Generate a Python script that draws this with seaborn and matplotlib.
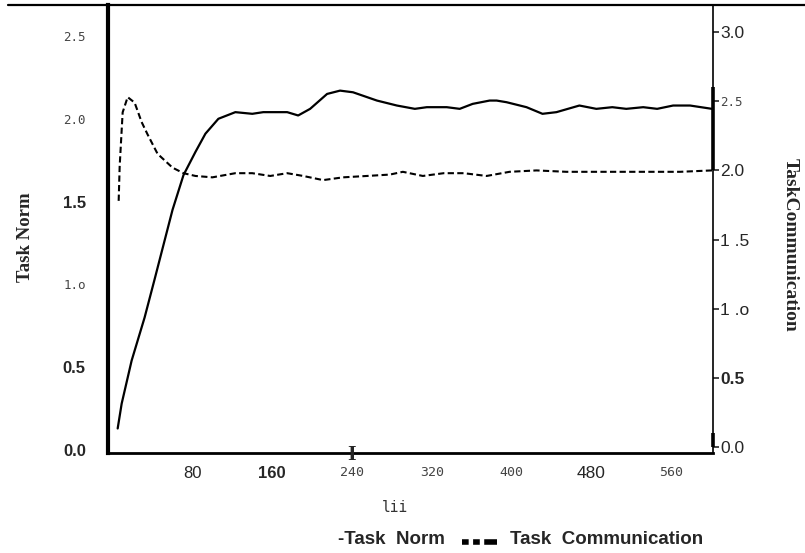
import matplotlib
matplotlib.use("Agg")
import matplotlib.pyplot as plt
import seaborn as sns
from matplotlib.lines import Line2D

# ---- data ----
x_norm = [5, 9, 19, 32, 42, 60, 71, 83, 93, 106, 123, 140, 151, 175, 186, 198, 215, 228, 241,
          265, 285, 303, 315, 335, 348, 361, 378, 385, 395, 415, 431, 445, 468, 485, 501, 515,
          532, 546, 562, 579, 601]
y_norm = [0.13, 0.28, 0.54, 0.80, 1.03, 1.45, 1.66, 1.80, 1.91, 2.00, 2.04, 2.03, 2.04, 2.04,
          2.02, 2.06, 2.15, 2.17, 2.16, 2.11, 2.08, 2.06, 2.07, 2.07, 2.06, 2.09, 2.11, 2.11,
          2.10, 2.07, 2.03, 2.04, 2.08, 2.06, 2.07, 2.06, 2.07, 2.06, 2.08, 2.08, 2.06]

x_comm = [6, 7, 10, 15, 22, 29, 35, 45, 60, 71, 83, 100, 123, 140, 158, 175, 191, 211, 231,
          255, 278, 291, 311, 332, 352, 375, 398, 425, 455, 478, 502, 522, 542, 569, 601]
y_comm = [1.78, 2.03, 2.42, 2.53, 2.49, 2.35, 2.26, 2.12, 2.02, 1.98, 1.96, 1.95, 1.98, 1.98,
          1.96, 1.98, 1.96, 1.93, 1.95, 1.96, 1.97, 1.99, 1.96, 1.98, 1.98, 1.96, 1.99, 2.00,
          1.99, 1.99, 1.99, 1.99, 1.99, 1.99, 2.00]

x_ticks = [80, 160, 240, 320, 400, 480, 560]
x_ticklabels = ["80", "160", "240", "320", "400", "480", "560"]
left_ticks = [0.0, 0.5, 1.0, 1.5, 2.0, 2.5]
left_ticklabels = ["0.0", "0.5", "1.o", "1.5", "2.0", "2.5"]
right_ticks = [0.0, 0.5, 1.0, 1.5, 2.0, 2.5, 3.0]
right_ticklabels = ["0.0", "0.5", "1 .o", "1 .5", "2.0", "2.5", "3.0"]

sns.set_style("white")
plt.rcParams["font.family"] = ["Liberation Sans", "DejaVu Sans"]

fig = plt.figure(figsize=(8.05, 5.53), dpi=100)
ax = fig.add_axes([108 / 805, 1 - 453 / 553, (713 - 108) / 805, (453 - 5) / 553])
ax2 = ax.twinx()

sns.lineplot(x=x_norm, y=y_norm, ax=ax, color="black", linewidth=1.6)
sns.lineplot(x=x_comm, y=y_comm, ax=ax2, color="black", linewidth=1.5,
             linestyle=(0, (3.0, 1.6)))

ax.set_xlim(-4.7, 602)
ax.set_ylim(-0.018, 2.687)
ax2.set_ylim(-0.043, 3.196)

for a in (ax, ax2):
    a.set_facecolor("none")
    for s in a.spines.values():
        s.set_visible(False)

ax.spines["left"].set_visible(True)
ax.spines["left"].set_linewidth(3.0)
ax.spines["left"].set_color("black")
ax.spines["bottom"].set_visible(True)
ax.spines["bottom"].set_linewidth(2.0)
ax.spines["bottom"].set_color("black")
ax2.spines["right"].set_visible(True)
ax2.spines["right"].set_linewidth(1.2)
ax2.spines["right"].set_color("black")

# x ticks
ax.set_xticks(x_ticks)
ax.set_xticklabels(x_ticklabels)
ax.tick_params(axis="x", length=0, pad=9)
xstyles = [
    dict(family="Liberation Sans", size=12, weight="normal"),
    dict(family="Liberation Sans", size=12, weight="bold"),
    dict(family="DejaVu Sans Mono", size=9.5, weight="light"),
    dict(family="DejaVu Sans Mono", size=9.5, weight="light"),
    dict(family="DejaVu Sans Mono", size=9.5, weight="light"),
    dict(family="Liberation Sans", size=12.5, weight="normal"),
    dict(family="DejaVu Sans Mono", size=9.5, weight="light"),
]
for lab, st in zip(ax.get_xticklabels(), xstyles):
    lab.set_fontfamily(st["family"]); lab.set_fontsize(st["size"]); lab.set_fontweight(st["weight"])
    if "Mono" in st["family"]:
        lab.set_color("#444444")

# left ticks
ax.set_yticks(left_ticks)
ax.set_yticklabels(left_ticklabels)
ax.tick_params(axis="y", length=0, pad=16)
lstyles = ["bold", "bold", "mono", "bold", "mono", "mono"]
for lab, st in zip(ax.get_yticklabels(), lstyles):
    if st == "bold":
        lab.set_fontfamily("Liberation Sans"); lab.set_fontsize(12); lab.set_fontweight("bold")
    else:
        lab.set_fontfamily("DejaVu Sans Mono"); lab.set_fontsize(9); lab.set_color("#444444")

# right ticks
ax2.set_yticks(right_ticks)
ax2.set_yticklabels(right_ticklabels)
ax2.tick_params(axis="y", right=True, length=4, width=1.2, pad=1, direction="out")
rstyles = ["sans", "bold", "sans", "sans", "sans", "mono", "sans"]
for lab, st in zip(ax2.get_yticklabels(), rstyles):
    if st == "mono":
        lab.set_fontfamily("DejaVu Sans Mono"); lab.set_fontsize(9); lab.set_color("#444444")
    else:
        lab.set_fontfamily("Liberation Sans"); lab.set_fontsize(12.5)
        if st == "bold":
            lab.set_fontweight("bold")

# scan artefacts on the right axis
ax2.plot([1, 1], [2.0, 2.6], transform=ax2.get_yaxis_transform(), color="black",
         linewidth=2.6, clip_on=False, solid_capstyle="butt")
ax2.plot([1, 1], [0.0, 0.1], transform=ax2.get_yaxis_transform(), color="black",
         linewidth=2.6, clip_on=False, solid_capstyle="butt")

# I-shaped mark on x axis
ax.text(240, -0.004, "I", transform=ax.get_xaxis_transform(), ha="center", va="center",
        fontfamily="Liberation Serif", fontweight="bold", fontsize=16)

# axis labels
ax.set_ylabel("")
ax2.set_ylabel("")
ax.set_xlabel("")
fig.text(25 / 805, 1 - 237 / 553, "Task Norm", rotation=90, ha="center", va="center",
         fontfamily="Liberation Serif", fontweight="bold", fontsize=13.5)
fig.text(790 / 805, 1 - 245 / 553, "TaskCommunication", rotation=270, ha="center", va="center",
         fontfamily="Liberation Serif", fontweight="bold", fontsize=14)
fig.text(395 / 805, 1 - 507 / 553, "lii", ha="center", va="center",
         fontfamily="DejaVu Sans Mono", fontsize=10.5, color="#333333")

# top rule line
fig.add_artist(Line2D([8 / 805, 1.0], [1 - 5 / 553, 1 - 5 / 553], transform=fig.transFigure,
                      color="black", linewidth=1.6))

# legend
fig.text(338 / 805, 1 - 539 / 553, "-Task  Norm", ha="left", va="center",
         fontfamily="Liberation Sans", fontweight="bold", fontsize=13.5)
fig.add_artist(Line2D([462 / 805, 497 / 805], [1 - 542 / 553, 1 - 542 / 553],
                      transform=fig.transFigure, color="black", linewidth=4,
                      linestyle=(0, (1.2, 0.8, 1.2, 0.8, 2.4, 0.01))))
fig.text(510 / 805, 1 - 539 / 553, "Task  Communication", ha="left", va="center",
         fontfamily="Liberation Sans", fontweight="bold", fontsize=13.5)

fig.savefig("out.png", dpi=100)
